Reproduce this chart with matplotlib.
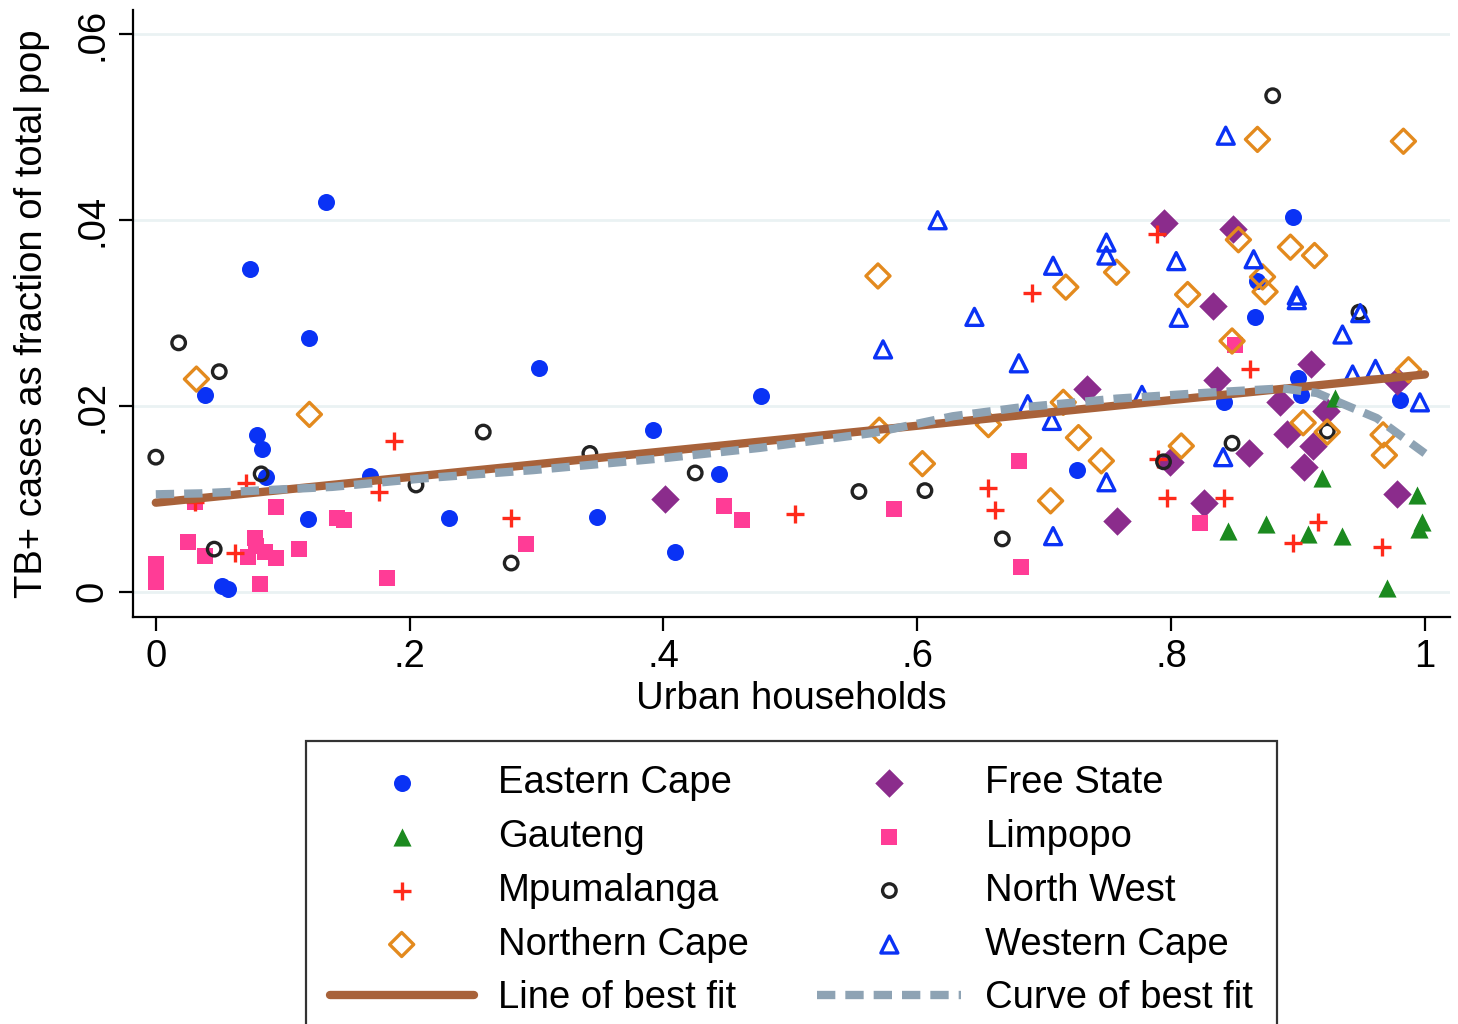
import matplotlib
matplotlib.use("Agg")
import matplotlib.pyplot as plt

plt.rcParams['font.family'] = ['Liberation Sans', 'DejaVu Sans']

# ---- data (urban share, TB+ fraction) ----
ec_x = [.039, .074, .080, .084, .087, .052, .057, .121, .134, .120, .169, .231, .302, .348,
        .392, .409, .444, .477, .726, .842, .866, .868, .896, .900, .902, .980]
ec_y = [.0212, .0348, .0169, .0154, .0124, .0006, .0003, .0273, .0420, .0078, .0125, .0080,
        .0241, .0081, .0174, .0043, .0127, .0211, .0131, .0204, .0296, .0335, .0403, .0230,
        .0212, .0206]

fs_x = [.401, .794, .849, .833, .734, .836, .910, .886, .922, .891, .912, .861, .799, .905,
        .757, .826, .978, .978]
fs_y = [.0100, .0397, .0391, .0308, .0218, .0228, .0245, .0204, .0195, .0170, .0157, .0150,
        .0140, .0134, .0076, .0096, .0105, .0227]

ga_x = [.929, .919, .994, .845, .875, .908, .935, .998, .995, .970]
ga_y = [.0209, .0123, .0104, .0065, .0073, .0062, .0060, .0075, .0068, .0004]

li_x = [.000, .000, .000, .025, .039, .031, .078, .079, .073, .086, .095, .082, .095, .113,
        .143, .148, .182, .292, .448, .462, .582, .680, .682, .823, .850]
li_y = [.0030, .0020, .0011, .0054, .0039, .0097, .0058, .0049, .0037, .0043, .0036, .0008,
        .0091, .0046, .0079, .0077, .0015, .0052, .0092, .0077, .0089, .0141, .0027, .0074,
        .0266]

mp_x = [.071, .031, .062, .188, .176, .280, .504, .690, .789, .862, .656, .661, .790, .797,
        .842, .916, .896, .966]
mp_y = [.0117, .0097, .0042, .0162, .0107, .0079, .0084, .0322, .0385, .0240, .0112, .0088,
        .0143, .0101, .0101, .0075, .0053, .0048]

nw_x = [.000, .018, .050, .046, .083, .205, .258, .280, .342, .425, .554, .606, .667, .794,
        .848, .923, .948, .880]
nw_y = [.0145, .0268, .0237, .0046, .0127, .0115, .0172, .0031, .0149, .0128, .0108, .0109,
        .0057, .0140, .0160, .0173, .0301, .0534]

nc_x = [.032, .121, .569, .570, .604, .656, .715, .717, .757, .727, .745, .705, .813, .808,
        .848, .853, .872, .874, .894, .913, .904, .923, .967, .968, .987, .868, .983]
nc_y = [.0229, .0191, .0340, .0174, .0138, .0180, .0204, .0328, .0344, .0166, .0141, .0098,
        .0320, .0157, .0270, .0379, .0339, .0323, .0371, .0362, .0182, .0172, .0169, .0147,
        .0239, .0487, .0485]

wc_x = [.616, .573, .645, .680, .707, .749, .749, .804, .806, .865, .899, .899, .935, .949,
        .961, .943, .996, .706, .687, .777, .841, .749, .707, .843]
wc_y = [.0400, .0261, .0296, .0246, .0351, .0376, .0362, .0356, .0295, .0358, .0319, .0314,
        .0277, .0300, .0240, .0234, .0204, .0184, .0202, .0212, .0145, .0118, .0060, .0491]

fit_x = [0.0, 1.0]
fit_y = [0.0096, 0.0234]

curve_x = [0, .035, .139, .218, .297, .401, .476, .565, .628, .678, .757, .836, .888, .915,
           .941, .962, .986, 1.0]
curve_y = [.0105, .0106, .0113, .0123, .0131, .0144, .0155, .0171, .0189, .0198, .0208, .0215,
           .0219, .0214, .0199, .0187, .0163, .0149]

x_ticks = [0, .2, .4, .6, .8, 1]
x_labels = ['0', '.2', '.4', '.6', '.8', '1']
y_ticks = [0, .02, .04, .06]
y_labels = ['0', '.02', '.04', '.06']

FS = 27.5

# ---- figure ----
fig = plt.figure(figsize=(14.58, 10.24), dpi=100)
ax = fig.add_axes([0.0912, 0.3975, 0.9033, 0.5925])
ax.set_xlim(-0.018, 1.0197)
ax.set_ylim(-0.0027, 0.0626)

for yv in y_ticks:
    ax.axhline(yv, color='#EAF2F3', lw=2, zorder=0)

C_EC = '#0A32F5'
C_FS = '#8B2C8C'
C_GA = '#1B8A1F'
C_LI = '#FF3C96'
C_MP = '#FF2A1A'
C_NW = '#222222'
C_NC = '#E38A1E'
C_WC = '#0A32F5'

h_ec = ax.scatter(ec_x, ec_y, s=150, marker='o', color=C_EC, lw=0, zorder=3, label='Eastern Cape')
h_fs = ax.scatter(fs_x, fs_y, s=210, marker='D', color=C_FS, lw=0, zorder=3, label='Free State')
h_ga = ax.scatter(ga_x, ga_y, s=170, marker='^', color=C_GA, lw=0, zorder=3, label='Gauteng')
h_li = ax.scatter(li_x, li_y, s=130, marker='s', color=C_LI, lw=0, zorder=3, label='Limpopo')
h_mp = ax.scatter(mp_x, mp_y, s=180, marker='+', color=C_MP, lw=2.4, zorder=3, label='Mpumalanga')
h_nw = ax.scatter(nw_x, nw_y, s=95, marker='o', facecolors='none', edgecolors=C_NW, lw=2.4,
                  zorder=3, label='North West')
h_nc = ax.scatter(nc_x, nc_y, s=150, marker='D', facecolors='none', edgecolors=C_NC, lw=2.4,
                  zorder=3, label='Northern Cape')
h_wc = ax.scatter(wc_x, wc_y, s=150, marker='^', facecolors='none', edgecolors=C_WC, lw=2.4,
                  zorder=3, label='Western Cape')

h_fit, = ax.plot(fit_x, fit_y, color='#A8623A', lw=6, solid_capstyle='round', zorder=4,
                 label='Line of best fit')
h_curve, = ax.plot(curve_x, curve_y, color='#8EA3B4', lw=6, dashes=(2.2, 1.2), zorder=5,
                   label='Curve of best fit')

ax.spines['top'].set_visible(False)
ax.spines['right'].set_visible(False)
for sp in ('left', 'bottom'):
    ax.spines[sp].set_linewidth(1.6)
    ax.spines[sp].set_color('black')

ax.set_xticks(x_ticks)
ax.set_xticklabels(x_labels)
ax.set_yticks(y_ticks)
ax.set_yticklabels(y_labels, rotation=90, va='center')
ax.tick_params(axis='both', direction='out', length=10, width=1.6, labelsize=FS, pad=6)

ax.set_xlabel('Urban households', fontsize=FS, labelpad=4)
ax.set_ylabel('TB+ cases as fraction of total pop', fontsize=FS, labelpad=18)

handles = [h_ec, h_ga, h_mp, h_nc, h_fit, h_fs, h_li, h_nw, h_wc, h_curve]
leg = fig.legend(handles=handles, loc='upper left', bbox_to_anchor=(306 / 1458, 1 - 741 / 1024),
                 ncol=2, fontsize=FS, frameon=True, fancybox=False, edgecolor='black',
                 handlelength=3.77, handletextpad=0.63, columnspacing=1.8,
                 labelspacing=0.47, borderpad=0.62, borderaxespad=0.0,
                 markerscale=1.0, scatterpoints=1)
leg.get_frame().set_linewidth(1.6)

fig.savefig('out.png', dpi=100, facecolor='white')
